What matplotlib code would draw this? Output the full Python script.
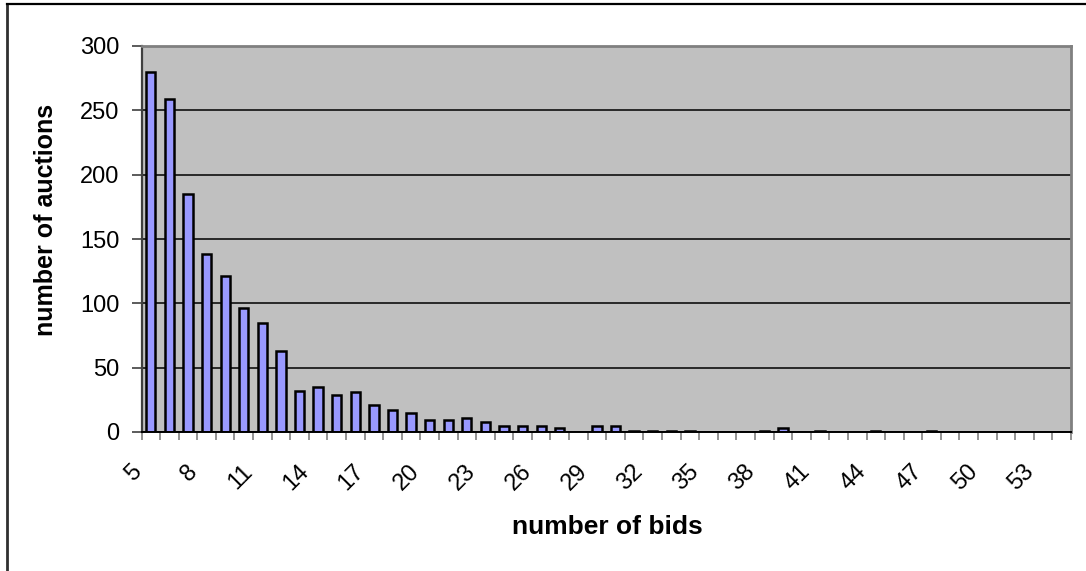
import matplotlib
matplotlib.use("Agg")
import matplotlib.pyplot as plt
from matplotlib.lines import Line2D
from matplotlib.transforms import ScaledTranslation

# Distribution of auctions by number of bids
bids = list(range(5, 55))
auctions = [280, 259, 185, 138, 121, 96, 85, 63, 32, 35,
            29, 31, 21, 17, 15, 9, 9, 11, 8, 5,
            5, 5, 3, 0, 5, 5, 1, 1, 1, 1,
            0, 0, 0, 1, 3, 0, 1, 0, 0, 1,
            0, 0, 1, 0, 0, 0, 0, 0, 0, 0]
y_ticks = [0, 50, 100, 150, 200, 250, 300]

plt.rcParams['font.family'] = ['Liberation Sans', 'DejaVu Sans']

W, H = 1086, 571
fig = plt.figure(figsize=(W / 100, H / 100), dpi=100)
fig.patch.set_facecolor('white')

left, right, top, bottom = 141.5, 1071, 46, 432
ax = fig.add_axes([left / W, 1 - bottom / H, (right - left) / W, (bottom - top) / H])
ax.set_facecolor('#C0C0C0')

pos = list(range(len(bids)))
ax.bar(pos, auctions, width=0.5, color='#9999FF', edgecolor='black',
       linewidth=1.8, zorder=3)

ax.set_xlim(-0.5, len(bids) - 0.5)
ax.set_ylim(0, 300)

# horizontal gridlines
ax.set_yticks(y_ticks)
ax.set_yticklabels([str(v) for v in y_ticks], fontsize=17)
ax.yaxis.grid(True, color='black', linewidth=1.1, zorder=1)
ax.set_axisbelow(True)
ax.tick_params(axis='y', direction='out', length=7, width=1.2,
               color='#404040', pad=9)

# category boundary ticks (unlabelled) and labelled category centres
ax.set_xticks([p - 0.5 for p in pos] + [len(bids) - 0.5])
ax.set_xticklabels([])
ax.tick_params(axis='x', which='major', direction='out', length=6,
               width=1.2, color='#808080')
lab_pos = pos[::3]
ax.set_xticks(lab_pos, minor=True)
ax.set_xticklabels([str(bids[p]) for p in lab_pos], minor=True,
                   rotation=45, ha='right', va='center',
                   rotation_mode='anchor', fontsize=17)
ax.tick_params(axis='x', which='minor', length=0, pad=26)
for lab in ax.get_xticklabels(minor=True):
    lab.set_transform(lab.get_transform() +
                      ScaledTranslation(-0.13, 0, fig.dpi_scale_trans))

for side in ('top', 'right'):
    ax.spines[side].set_color('#808080')
    ax.spines[side].set_linewidth(2)
ax.spines['left'].set_color('#404040')
ax.spines['left'].set_linewidth(1.6)
ax.spines['bottom'].set_color('black')
ax.spines['bottom'].set_linewidth(1.4)
ax.spines['bottom'].set_zorder(4)

fig.text(607 / W, 1 - 527 / H, 'number of bids', ha='center', va='center',
         fontsize=19, fontweight='bold')
fig.text(46 / W, 1 - 220 / H, 'number of auctions', ha='center', va='center',
         rotation=90, fontsize=18, fontweight='bold')

# chart-area frame
fig.add_artist(Line2D([7 / W, 7 / W], [0, 1 - 4 / H], transform=fig.transFigure,
                      color='#303030', linewidth=2))
fig.add_artist(Line2D([7 / W, 1], [1 - 4 / H, 1 - 4 / H], transform=fig.transFigure,
                      color='black', linewidth=1.6))

fig.savefig('out.png', dpi=100, facecolor='white')
